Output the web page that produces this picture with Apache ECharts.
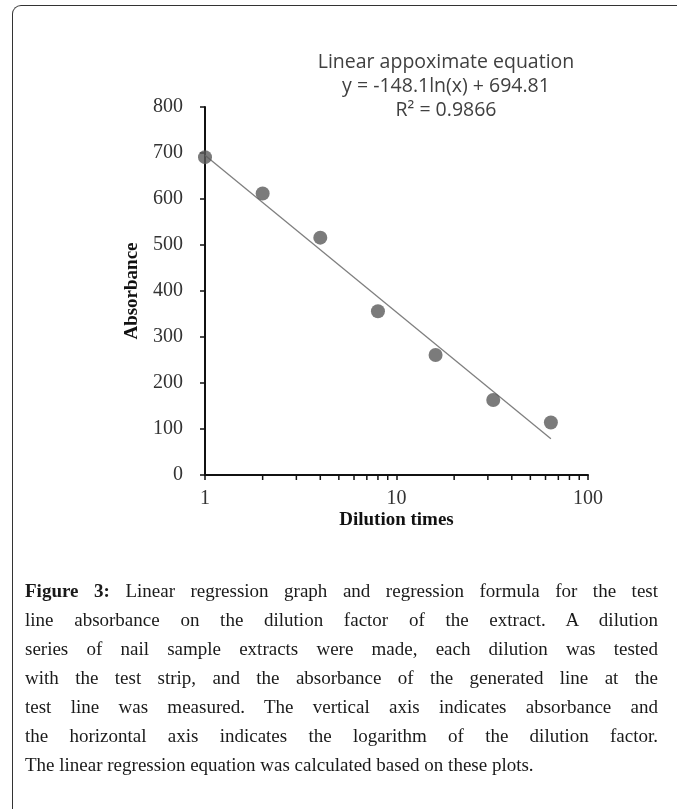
<!DOCTYPE html>
<html>
<head>
<meta charset="utf-8">
<script src="https://cdn.jsdelivr.net/npm/echarts@6/dist/echarts.min.js"></script>
<style>
  body { margin: 0; width: 677px; height: 809px; position: relative; overflow: hidden; background: #fff; }
  #frame { position: absolute; left: 12px; top: 5px; width: 720px; height: 900px;
           border-left: 1.5px solid #333; border-top: 1.5px solid #333; border-top-left-radius: 9px; }
  #container { position: absolute; left: 0; top: 0; width: 677px; height: 809px; }
  #caption { position: absolute; left: 25px; top: 576px; width: 633px;
             font-family: "Liberation Serif", serif; font-size: 19px; line-height: 29px; color: #1a1a1a; }
  #caption div { text-align: justify; text-align-last: justify; }
  #caption div.last { text-align-last: left; }
</style>
</head>
<body>
<div id="frame"></div>
<div id="container"></div>
<div id="caption">
  <div><b>Figure 3:</b> Linear regression graph and regression formula for the test</div>
  <div>line absorbance on the dilution factor of the extract. A dilution</div>
  <div>series of nail sample extracts were made, each dilution was tested</div>
  <div>with the test strip, and the absorbance of the generated line at the</div>
  <div>test line was measured. The vertical axis indicates absorbance and</div>
  <div>the horizontal axis indicates the logarithm of the dilution factor.</div>
  <div class="last">The linear regression equation was calculated based on these plots.</div>
</div>
<script type="text/javascript">

// measured points
var dilution = [1, 2, 4, 8, 16, 32, 64];
var absorbance = [691, 612, 516, 356, 261, 163, 114];

// fitted line y = -148.1ln(x) + 694.81, end points
var trendX = [1, 64];
var trendY = [695, 79];

// minor ticks on the log axis
var minorTicks = [2, 3, 4, 5, 6, 7, 8, 9, 20, 30, 40, 50, 60, 70, 80, 90];

var eqLines = ['Linear appoximate equation', 'y = -148.1ln(x) + 694.81', 'R\u00b2 = 0.9866'];

var dom = document.getElementById('container');
var myChart = echarts.init(dom);

var points = dilution.map(function (d, i) { return [d, absorbance[i]]; });
var trend = trendX.map(function (d, i) { return [d, trendY[i]]; });

var serif = '"Liberation Serif", "Times New Roman", serif';

var option = {
    animation: false,
    grid: { left: 205, right: 89, top: 107, bottom: 334 },
    xAxis: {
        type: 'log',
        logBase: 10,
        min: 1,
        max: 100,
        name: 'Dilution times',
        nameLocation: 'middle',
        nameGap: 36,
        nameTextStyle: { fontFamily: serif, fontWeight: 'bold', fontSize: 19, color: '#111' },
        axisLine: { lineStyle: { color: '#111', width: 2 } },
        axisTick: { show: true, inside: false, length: 5, lineStyle: { color: '#111', width: 1.5 } },
        axisLabel: { fontFamily: serif, fontSize: 20, color: '#333', margin: 14 },
        splitLine: { show: false }
    },
    yAxis: {
        type: 'value',
        min: 0,
        max: 800,
        interval: 100,
        name: 'Absorbance',
        nameLocation: 'middle',
        nameGap: 63,
        nameRotate: 90,
        nameTextStyle: { fontFamily: serif, fontWeight: 'bold', fontSize: 19, color: '#111' },
        axisLine: { show: true, lineStyle: { color: '#111', width: 2 } },
        axisTick: { show: true, inside: false, length: 5, lineStyle: { color: '#111', width: 1.5 } },
        axisLabel: { fontFamily: serif, fontSize: 20, color: '#333', margin: 22 },
        splitLine: { show: false }
    },
    graphic: eqLines.map(function (t, i) {
        return {
            type: 'text',
            x: 446,
            y: 62 + i * 24,
            style: {
                text: t,
                fill: '#404040',
                font: '19.5px "Open Sans", sans-serif',
                textAlign: 'center',
                textVerticalAlign: 'middle'
            }
        };
    }),
    series: [
        {
            type: 'line',
            data: trend,
            symbol: 'none',
            lineStyle: { color: '#7f7f7f', width: 1.3 },
            z: 2
        },
        {
            type: 'scatter',
            data: points,
            symbolSize: 14,
            itemStyle: { color: '#5a5a5a' },
            z: 3
        },
        {
            type: 'custom',
            silent: true,
            clip: false,
            data: minorTicks,
            renderItem: function (params, api) {
                var p = api.coord([api.value(0), 0]);
                return {
                    type: 'line',
                    shape: { x1: p[0], y1: p[1], x2: p[0], y2: p[1] + 5 },
                    style: { stroke: '#111', lineWidth: 1.5 }
                };
            },
            encode: { x: 0 },
            z: 4
        }
    ]
};

myChart.setOption(option);

window.onresize = function () {
    myChart.resize();
};
</script>
</body>
</html>
